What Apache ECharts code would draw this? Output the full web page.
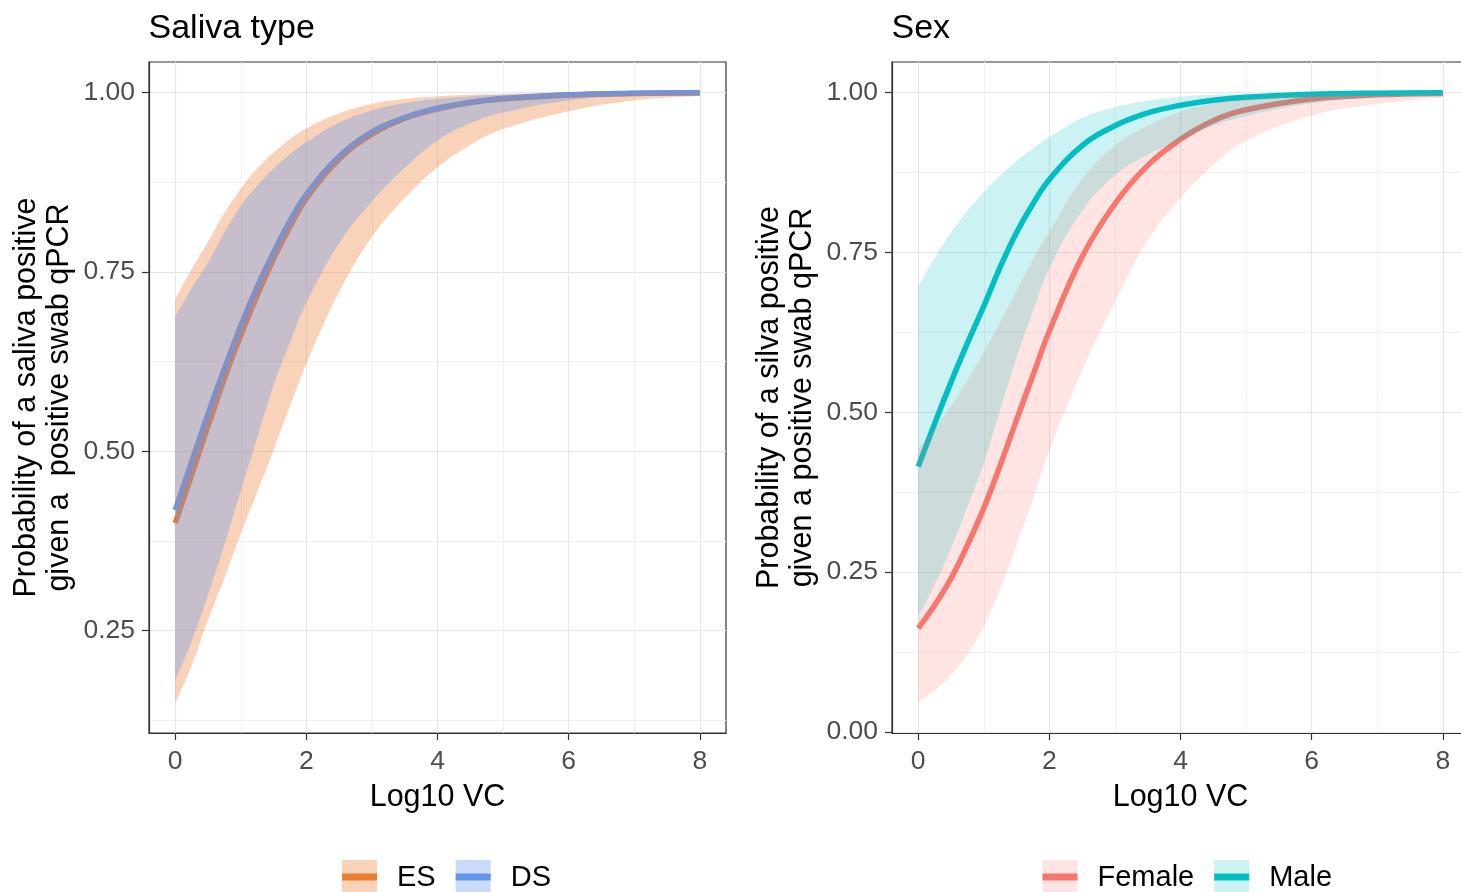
<!DOCTYPE html>
<html>
<head>
<meta charset="utf-8">
<script src="https://cdn.jsdelivr.net/npm/echarts@6.0.0/dist/echarts.min.js"></script>
<style>
html, body { margin: 0; padding: 0; background: #fff; }
#chart { width: 1461px; height: 892px; }
</style>
</head>
<body>
<div id="chart"></div>
<script>
// Log10 VC values the fits were read at (denser where the curves bend)
var xs = [0, 0.25, 0.5, 0.75, 1, 1.25, 1.5, 1.75, 2, 2.5, 3, 3.5, 4, 4.5, 5, 6, 7, 8];

// Saliva type panel
var esFit  = [0.400, 0.467, 0.535, 0.601, 0.662, 0.717, 0.768, 0.813, 0.852, 0.907, 0.942, 0.964, 0.977, 0.986, 0.991, 0.9966, 0.9987, 0.9995];
var esLow  = [0.149, 0.201, 0.265, 0.323, 0.385, 0.443, 0.502, 0.563, 0.622, 0.722, 0.799, 0.853, 0.896, 0.927, 0.949, 0.974, 0.989, 0.995];
var esHigh = [0.711, 0.754, 0.792, 0.832, 0.866, 0.894, 0.916, 0.935, 0.950, 0.971, 0.984, 0.991, 0.9945, 0.9967, 0.998, 0.9993, 0.9997, 0.9999];
var dsFit  = [0.418, 0.485, 0.552, 0.615, 0.675, 0.729, 0.777, 0.821, 0.858, 0.911, 0.945, 0.965, 0.978, 0.986, 0.9915, 0.9967, 0.9988, 0.9995];
var dsLow  = [0.181, 0.235, 0.300, 0.370, 0.445, 0.519, 0.592, 0.652, 0.707, 0.790, 0.848, 0.895, 0.933, 0.957, 0.972, 0.989, 0.9955, 0.998];
var dsHigh = [0.688, 0.727, 0.763, 0.805, 0.842, 0.870, 0.894, 0.914, 0.931, 0.958, 0.975, 0.985, 0.991, 0.9945, 0.9967, 0.9988, 0.9996, 0.9998];

// Sex panel
var femaleFit  = [0.162, 0.198, 0.240, 0.292, 0.350, 0.417, 0.488, 0.558, 0.627, 0.743, 0.826, 0.886, 0.927, 0.956, 0.973, 0.990, 0.9963, 0.9986];
var femaleLow  = [0.046, 0.065, 0.089, 0.122, 0.165, 0.223, 0.293, 0.364, 0.440, 0.565, 0.673, 0.769, 0.835, 0.887, 0.924, 0.964, 0.982, 0.992];
var femaleHigh = [0.443, 0.475, 0.510, 0.550, 0.594, 0.641, 0.690, 0.739, 0.782, 0.864, 0.917, 0.948, 0.970, 0.983, 0.991, 0.9973, 0.9992, 0.9997];
var maleFit  = [0.415, 0.482, 0.547, 0.608, 0.666, 0.727, 0.781, 0.826, 0.864, 0.917, 0.948, 0.968, 0.980, 0.988, 0.9926, 0.9973, 0.999, 0.9996];
var maleLow  = [0.180, 0.230, 0.287, 0.352, 0.420, 0.503, 0.585, 0.658, 0.725, 0.815, 0.870, 0.903, 0.925, 0.948, 0.963, 0.983, 0.993, 0.997];
var maleHigh = [0.696, 0.741, 0.781, 0.815, 0.844, 0.870, 0.893, 0.913, 0.930, 0.960, 0.977, 0.987, 0.9933, 0.9963, 0.9978, 0.9992, 0.9997, 0.9999];

// tick labels / grid breaks
var xMajor = [0, 2, 4, 6, 8];
var xMinor = [1, 3, 5, 7];
var yMajorLeft = [0.25, 0.5, 0.75, 1];
var yMajorRight = [0, 0.25, 0.5, 0.75, 1];
var yMinor = [0.125, 0.375, 0.625, 0.875];

var FONT = 'Liberation Sans, Arial, sans-serif';
var ES_LINE = '#EE7D2F', ES_FILL = 'rgba(237,125,49,0.34)';
var DS_LINE = '#6495ED', DS_FILL = 'rgba(100,149,237,0.34)';
var F_LINE = '#F8766D', F_FILL = 'rgba(248,118,109,0.2)';
var M_LINE = '#00BFC4', M_FILL = 'rgba(0,191,196,0.2)';
var SMOOTH = 0.4;

function pairs(ys) {
  return xs.map(function (x, i) { return [x, ys[i]]; });
}
// y first so that stacking works on the y values (x axis is a value axis)
function yFirst(ys) {
  return xs.map(function (x, i) { return [ys[i], x]; });
}
function spans(lo, hi) {
  return xs.map(function (x, i) { return [+(hi[i] - lo[i]).toFixed(5), x]; });
}

function majorX(g) {
  return {
    type: 'value', gridIndex: g, min: -0.4, max: 8.4, position: 'bottom',
    name: 'Log10 VC', nameLocation: 'middle', nameGap: 49,
    nameTextStyle: { fontSize: 30.5, color: '#000', fontFamily: FONT },
    axisLine: { show: true, onZero: false, lineStyle: { color: '#333', width: 1.2 } },
    axisTick: { show: true, customValues: xMajor, length: 7, lineStyle: { color: '#333', width: 1.2 } },
    axisLabel: { customValues: xMajor, fontSize: 26.5, color: '#4d4d4d', margin: 15, fontFamily: FONT },
    splitLine: { show: true, lineStyle: { color: '#e6e6e6', width: 1.2 } }
  };
}
function minorX(g) {
  return {
    type: 'value', gridIndex: g, min: -0.4, max: 8.4, position: 'bottom',
    axisLine: { show: false, onZero: false },
    axisTick: { show: false, customValues: xMinor },
    axisLabel: { show: false, customValues: xMinor },
    splitLine: { show: true, lineStyle: { color: '#f0f0f0', width: 1 } }
  };
}
function majorY(g, min, max, ticks, title) {
  return {
    type: 'value', gridIndex: g, min: min, max: max, position: 'left',
    name: title, nameLocation: 'middle', nameGap: 73, nameRotate: 90,
    nameTextStyle: { fontSize: 30.5, lineHeight: 33, color: '#000', fontFamily: FONT, align: 'center' },
    axisLine: { show: true, onZero: false, lineStyle: { color: '#333', width: 1.2 } },
    axisTick: { show: true, customValues: ticks, length: 7, lineStyle: { color: '#333', width: 1.2 } },
    axisLabel: {
      customValues: ticks, fontSize: 26.5, color: '#4d4d4d', margin: 14, fontFamily: FONT,
      formatter: function (v) { return v.toFixed(2); }
    },
    splitLine: { show: true, lineStyle: { color: '#e6e6e6', width: 1.2 } }
  };
}
function minorY(g, min, max) {
  return {
    type: 'value', gridIndex: g, min: min, max: max, position: 'left',
    axisLine: { show: false, onZero: false },
    axisTick: { show: false, customValues: yMinor },
    axisLabel: { show: false, customValues: yMinor },
    splitLine: { show: true, lineStyle: { color: '#f0f0f0', width: 1 } }
  };
}

function fitLine(name, ys, color, axis) {
  return {
    name: name, type: 'line', xAxisIndex: axis, yAxisIndex: axis,
    data: pairs(ys), symbol: 'none', smooth: SMOOTH,
    lineStyle: { color: color, width: 5.5, cap: 'butt' }, itemStyle: { color: color },
    z: 2, silent: true
  };
}
function band(name, lo, hi, fill, axis) {
  return [{
    name: name, type: 'line', xAxisIndex: axis, yAxisIndex: axis, stack: 'band' + name,
    encode: { x: 1, y: 0 },
    data: yFirst(lo), symbol: 'none', smooth: SMOOTH,
    lineStyle: { width: 0, opacity: 0 }, z: 3, silent: true
  }, {
    name: name, type: 'line', xAxisIndex: axis, yAxisIndex: axis, stack: 'band' + name,
    encode: { x: 1, y: 0 },
    data: spans(lo, hi), symbol: 'none', smooth: SMOOTH,
    lineStyle: { width: 0, opacity: 0 }, areaStyle: { color: fill, opacity: 1 },
    z: 3, silent: true
  }];
}

function legendPair(left, items) {
  var base = {
    left: left, orient: 'horizontal', itemGap: 20, padding: 0,
    itemWidth: 35, selectedMode: false, symbolKeepAspect: false
  };
  var fillLegend = Object.assign({}, base, {
    top: 860, itemHeight: 35,
    textStyle: { fontSize: 29, color: '#000', fontFamily: FONT, padding: [0, 0, 0, 15] },
    data: items.map(function (it) {
      return { name: it.name, icon: 'rect', itemStyle: { color: it.fill, borderWidth: 0 } };
    })
  });
  var lineLegend = Object.assign({}, base, {
    top: 862.5, itemHeight: 7,
    textStyle: { fontSize: 29, lineHeight: 7, color: 'rgba(0,0,0,0)', fontFamily: FONT, padding: [0, 0, 0, 15] },
    data: items.map(function (it) {
      return { name: it.name, icon: 'rect', itemStyle: { color: it.line, borderWidth: 0 } };
    })
  });
  return [fillLegend, lineLegend];
}

var chart = echarts.init(document.getElementById('chart'));

var option = {
  animation: false,
  backgroundColor: '#fff',
  title: [
    { text: 'Saliva type', left: 148.5, top: 12, padding: 0,
      textStyle: { fontSize: 34, fontWeight: 'normal', color: '#000', fontFamily: FONT } },
    { text: 'Sex', left: 891.5, top: 12, padding: 0,
      textStyle: { fontSize: 34, fontWeight: 'normal', color: '#000', fontFamily: FONT } }
  ],
  grid: [
    { left: 149, top: 62, width: 577, height: 671, show: true, borderColor: '#333', borderWidth: 1.2,
      backgroundColor: 'transparent', containLabel: false, outerBoundsMode: 'none' },
    { left: 892, top: 62, width: 577, height: 671, show: true, borderColor: '#333', borderWidth: 1.2,
      backgroundColor: 'transparent', containLabel: false, outerBoundsMode: 'none' }
  ],
  xAxis: [majorX(0), minorX(0), majorX(1), minorX(1)],
  yAxis: [
    majorY(0, 0.1075, 1.0425, yMajorLeft, 'Probability of a saliva positive\ngiven a  positive swab qPCR'),
    minorY(0, 0.1075, 1.0425),
    majorY(1, -0.0017, 1.0477, yMajorRight, 'Probability of a silva positive\ngiven a positive swab qPCR'),
    minorY(1, -0.0017, 1.0477)
  ],
  legend: legendPair(342, [
    { name: 'ES', fill: ES_FILL, line: ES_LINE },
    { name: 'DS', fill: DS_FILL, line: DS_LINE }
  ]).concat(legendPair(1042.5, [
    { name: 'Female', fill: F_FILL, line: F_LINE },
    { name: 'Male', fill: M_FILL, line: M_LINE }
  ])),
  series: [].concat(
    [fitLine('ES', esFit, ES_LINE, 0), fitLine('DS', dsFit, DS_LINE, 0)],
    band('ES', esLow, esHigh, ES_FILL, 0),
    band('DS', dsLow, dsHigh, DS_FILL, 0),
    [fitLine('Female', femaleFit, F_LINE, 2), fitLine('Male', maleFit, M_LINE, 2)],
    band('Female', femaleLow, femaleHigh, F_FILL, 2),
    band('Male', maleLow, maleHigh, M_FILL, 2)
  )
};

chart.setOption(option);
</script>
</body>
</html>
